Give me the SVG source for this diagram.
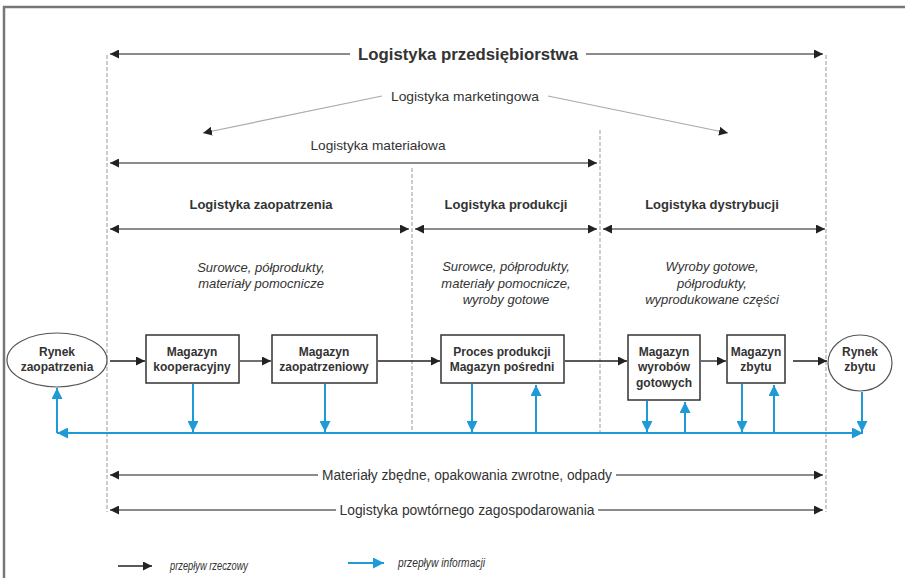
<svg xmlns="http://www.w3.org/2000/svg" width="905" height="578" viewBox="0 0 905 578">
<defs>
<marker id="ah" viewBox="0 0 10 10" refX="10" refY="5" markerWidth="9" markerHeight="9" markerUnits="userSpaceOnUse" orient="auto-start-reverse"><path d="M0,0 L10,5 L0,10 z" fill="#222"/></marker>
<marker id="ahb" viewBox="0 0 10 10" refX="10" refY="5" markerWidth="11" markerHeight="11" markerUnits="userSpaceOnUse" orient="auto-start-reverse"><path d="M0,0 L10,5 L0,10 z" fill="#1e9ad6"/></marker>
<style>
text{font-family:"Liberation Sans",Arial,sans-serif;fill:#333;text-anchor:middle}
.b{font-weight:bold}
.i{font-style:italic}
.dim{stroke:#666;stroke-width:1.5;fill:none}
.dash{stroke:#999;stroke-width:1;stroke-dasharray:4,2;fill:none}
.mk{stroke:#aaa;stroke-width:1.2;fill:none}
.flow{stroke:#222;stroke-width:1.3;fill:none}
.info{stroke:#1e9ad6;stroke-width:2;fill:none}
.box{fill:#fff;stroke:#333;stroke-width:1.5}
.ell{fill:#fff;stroke:#555;stroke-width:1.2}
.bt{font-weight:bold;font-size:12px}
</style>
</defs>
<rect x="4" y="7" width="1000" height="1000" fill="none" stroke="#777" stroke-width="2.5"/>

<g id="guides">
<line class="dash" x1="107" y1="55" x2="107" y2="512"/>
<line class="dash" x1="826" y1="55" x2="826" y2="512"/>
<line class="dash" x1="600" y1="130" x2="600" y2="433"/>
<line class="dash" x1="412" y1="168" x2="412" y2="433"/>
</g>

<g id="scopes">
<line class="dim" x1="110" y1="54" x2="350" y2="54" marker-start="url(#ah)"/>
<line class="dim" x1="586" y1="54" x2="823" y2="54" marker-end="url(#ah)"/>
<text class="b" x="468" y="60" font-size="17" textLength="220" lengthAdjust="spacingAndGlyphs">Logistyka przedsiębiorstwa</text>
<text x="465" y="101" font-size="13" textLength="148" lengthAdjust="spacingAndGlyphs">Logistyka marketingowa</text>
<line class="mk" x1="382" y1="96" x2="203" y2="133" marker-end="url(#ah)"/>
<line class="mk" x1="548" y1="96" x2="728" y2="133" marker-end="url(#ah)"/>
<text x="378" y="150" font-size="13" textLength="135" lengthAdjust="spacingAndGlyphs">Logistyka materiałowa</text>
<line class="dim" x1="110" y1="163" x2="597" y2="163" marker-start="url(#ah)" marker-end="url(#ah)"/>
<text class="b" x="261" y="209" font-size="13">Logistyka zaopatrzenia</text>
<text class="b" x="506" y="209" font-size="13">Logistyka produkcji</text>
<text class="b" x="712" y="209" font-size="13">Logistyka dystrybucji</text>
<line class="dim" x1="110" y1="229" x2="409" y2="229" marker-start="url(#ah)" marker-end="url(#ah)"/>
<line class="dim" x1="415" y1="229" x2="597" y2="229" marker-start="url(#ah)" marker-end="url(#ah)"/>
<line class="dim" x1="603" y1="229" x2="825" y2="229" marker-start="url(#ah)" marker-end="url(#ah)"/>
<g class="i" font-size="13">
<text class="i" x="261" y="272">Surowce, półprodukty,</text>
<text class="i" x="261" y="288">materiały pomocnicze</text>
<text class="i" x="506" y="271">Surowce, półprodukty,</text>
<text class="i" x="506" y="288">materiały pomocnicze,</text>
<text class="i" x="506" y="304">wyroby gotowe</text>
<text class="i" x="712" y="271">Wyroby gotowe,</text>
<text class="i" x="712" y="288">półprodukty,</text>
<text class="i" x="712" y="304">wyprodukowane części</text>
</g>
</g>

<g id="rynek-zaopatrzenia">
<ellipse class="ell" cx="57" cy="360" rx="50" ry="27"/>
<text class="bt" x="57" y="356">Rynek</text>
<text class="bt" x="57" y="371">zaopatrzenia</text>
</g>
<g id="magazyn-kooperacyjny">
<rect class="box" x="146" y="335" width="93" height="48"/>
<text class="bt" x="192" y="356">Magazyn</text>
<text class="bt" x="192" y="371">kooperacyjny</text>
</g>
<g id="magazyn-zaopatrzeniowy">
<rect class="box" x="272" y="335" width="105" height="48"/>
<text class="bt" x="324" y="356">Magazyn</text>
<text class="bt" x="324" y="371">zaopatrzeniowy</text>
</g>
<g id="proces-produkcji">
<rect class="box" x="441" y="335" width="123" height="48"/>
<text class="bt" x="502" y="356">Proces produkcji</text>
<text class="bt" x="502" y="371">Magazyn pośredni</text>
</g>
<g id="magazyn-wyrobow">
<rect class="box" x="628" y="335" width="72" height="65"/>
<text class="bt" x="664" y="356">Magazyn</text>
<text class="bt" x="664" y="371">wyrobów</text>
<text class="bt" x="664" y="387">gotowych</text>
</g>
<g id="magazyn-zbytu">
<rect class="box" x="727" y="335" width="58" height="48"/>
<text class="bt" x="756" y="356">Magazyn</text>
<text class="bt" x="756" y="371">zbytu</text>
</g>
<g id="rynek-zbytu">
<ellipse class="ell" cx="860" cy="363" rx="32" ry="28"/>
<text class="bt" x="860" y="356">Rynek</text>
<text class="bt" x="860" y="371">zbytu</text>
</g>

<g id="connectors">
<line class="flow" x1="110" y1="361" x2="145" y2="361" marker-end="url(#ah)"/>
<line class="flow" x1="240" y1="361" x2="271" y2="361" marker-end="url(#ah)"/>
<line class="flow" x1="378" y1="361" x2="440" y2="361" marker-end="url(#ah)"/>
<line class="flow" x1="565" y1="361" x2="627" y2="361" marker-end="url(#ah)"/>
<line class="flow" x1="701" y1="361" x2="726" y2="361" marker-end="url(#ah)"/>
<line class="flow" x1="793" y1="361" x2="827" y2="361" marker-end="url(#ah)"/>

<line class="info" x1="57" y1="433" x2="863" y2="433" marker-start="url(#ahb)" marker-end="url(#ahb)"/>
<line class="info" x1="57" y1="433" x2="57" y2="388" marker-end="url(#ahb)"/>
<line class="info" x1="193" y1="384" x2="193" y2="432" marker-end="url(#ahb)"/>
<line class="info" x1="325" y1="384" x2="325" y2="432" marker-end="url(#ahb)"/>
<line class="info" x1="472" y1="384" x2="472" y2="432" marker-end="url(#ahb)"/>
<line class="info" x1="536" y1="433" x2="536" y2="385" marker-end="url(#ahb)"/>
<line class="info" x1="647" y1="401" x2="647" y2="432" marker-end="url(#ahb)"/>
<line class="info" x1="685" y1="433" x2="685" y2="402" marker-end="url(#ahb)"/>
<line class="info" x1="742" y1="384" x2="742" y2="432" marker-end="url(#ahb)"/>
<line class="info" x1="774" y1="433" x2="774" y2="385" marker-end="url(#ahb)"/>
<line class="info" x1="862" y1="392" x2="862" y2="432" marker-end="url(#ahb)"/>
</g>

<g id="bottom">
<line class="dim" x1="110" y1="475" x2="318" y2="475" marker-start="url(#ah)"/>
<line class="dim" x1="616" y1="475" x2="823" y2="475" marker-end="url(#ah)"/>
<text x="467" y="480" font-size="14" textLength="290" lengthAdjust="spacingAndGlyphs">Materiały zbędne, opakowania zwrotne, odpady</text>
<line class="dim" x1="110" y1="510" x2="336" y2="510" marker-start="url(#ah)"/>
<line class="dim" x1="598" y1="510" x2="823" y2="510" marker-end="url(#ah)"/>
<text x="467" y="515" font-size="14" textLength="255" lengthAdjust="spacingAndGlyphs">Logistyka powtórnego zagospodarowania</text>
</g>

<g id="legend">
<line class="flow" x1="118" y1="566" x2="152" y2="566" stroke-width="2" marker-end="url(#ah)"/>
<text class="i" x="170" y="570" font-size="12" text-anchor="start" style="text-anchor:start" textLength="78" lengthAdjust="spacingAndGlyphs">przepływ rzeczowy</text>
<line class="info" x1="348" y1="563" x2="384" y2="563" stroke-width="3" marker-end="url(#ahb)"/>
<text class="i" x="398" y="567" font-size="12" style="text-anchor:start" textLength="87" lengthAdjust="spacingAndGlyphs">przepływ informacji</text>
</g>
</svg>
